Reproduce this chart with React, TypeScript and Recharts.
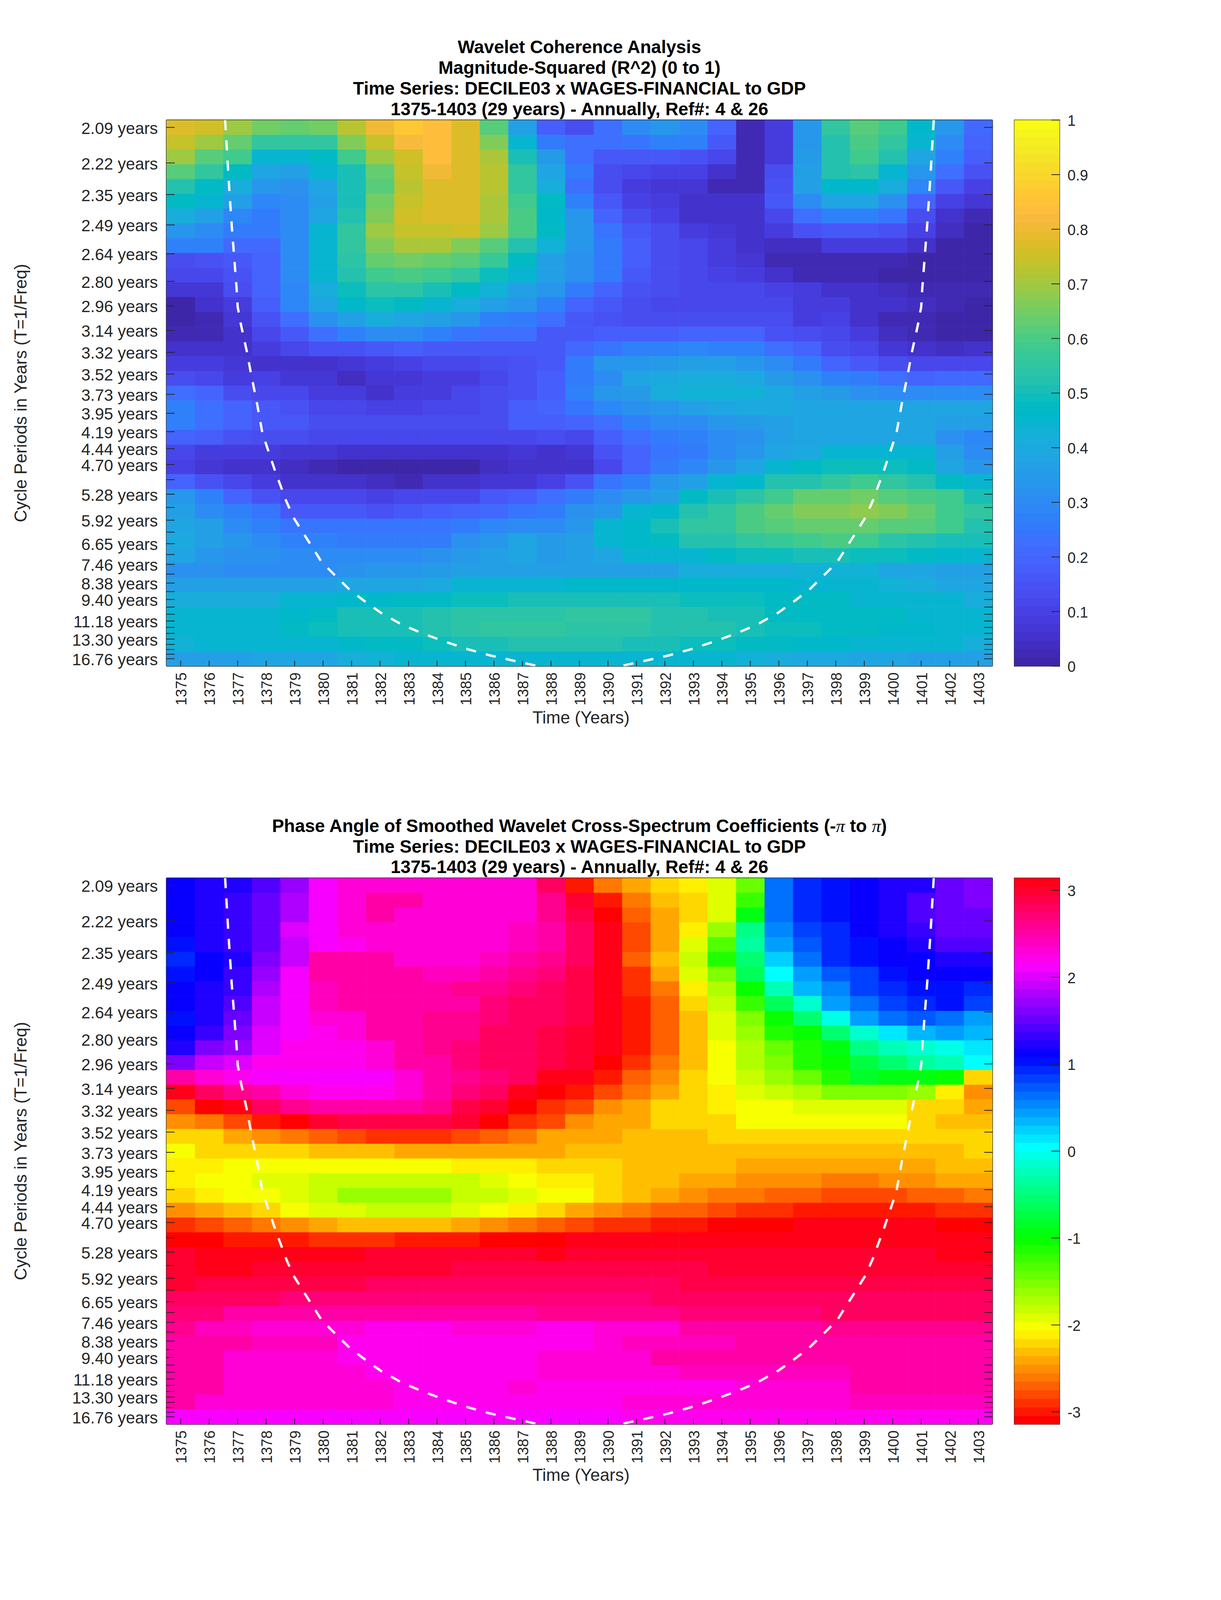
import React from "react";
import { ScatterChart, Scatter, XAxis, YAxis, ReferenceArea } from "recharts";

// ---------- categories and ticks ----------
const years = [1375,1376,1377,1378,1379,1380,1381,1382,1383,1384,1385,1386,1387,1388,1389,1390,1391,1392,1393,1394,1395,1396,1397,1398,1399,1400,1401,1402,1403];
const periods = [2.09,2.22,2.35,2.49,2.64,2.80,2.96,3.14,3.32,3.52,3.73,3.95,4.19,4.44,4.70,4.98,5.28,5.59,5.92,6.27,6.65,7.05,7.46,7.91,8.38,8.88,9.40,9.96,10.55,11.18,11.85,12.55,13.30,14.09,14.93,15.81,16.76];
const labelledPeriods = [2.09,2.22,2.35,2.49,2.64,2.80,2.96,3.14,3.32,3.52,3.73,3.95,4.19,4.44,4.70,5.28,5.92,6.65,7.46,8.38,9.40,11.18,13.30,16.76];
const coherenceTicks = [0,0.1,0.2,0.3,0.4,0.5,0.6,0.7,0.8,0.9,1];
const phaseTicks = [-3,-2,-1,0,1,2,3];

// ---------- magnitude-squared coherence, one row per period, one value per year ----------
const coherence = [
[.78,.75,.70,.65,.63,.65,.73,.80,.87,.84,.77,.61,.37,.18,.14,.22,.31,.34,.30,.19,.02,.08,.33,.55,.62,.59,.46,.34,.21],
[.74,.70,.64,.55,.55,.56,.67,.74,.82,.83,.78,.66,.45,.26,.22,.22,.24,.27,.27,.16,.02,.08,.34,.52,.60,.55,.44,.30,.19],
[.69,.62,.58,.45,.44,.47,.58,.69,.76,.83,.78,.71,.51,.35,.23,.16,.16,.16,.15,.11,.02,.09,.35,.52,.58,.52,.39,.27,.18],
[.62,.55,.48,.39,.37,.44,.51,.64,.74,.81,.78,.73,.55,.38,.26,.14,.11,.10,.10,.06,.03,.14,.36,.53,.54,.45,.33,.22,.15],
[.53,.48,.41,.33,.32,.39,.50,.62,.73,.78,.78,.72,.55,.41,.23,.14,.09,.07,.07,.03,.03,.15,.37,.46,.46,.41,.29,.17,.10],
[.48,.44,.37,.29,.31,.37,.50,.65,.74,.78,.77,.71,.59,.47,.28,.16,.10,.08,.06,.06,.06,.16,.31,.39,.39,.32,.20,.10,.07],
[.41,.36,.29,.25,.31,.39,.53,.66,.75,.78,.77,.71,.60,.46,.33,.19,.13,.10,.06,.05,.05,.11,.22,.27,.28,.24,.13,.06,.03],
[.34,.31,.26,.25,.30,.44,.55,.69,.74,.74,.75,.69,.60,.47,.33,.24,.16,.13,.09,.07,.05,.08,.15,.17,.17,.15,.10,.04,.01],
[.27,.27,.21,.21,.31,.44,.56,.67,.71,.71,.67,.62,.52,.43,.34,.26,.18,.14,.11,.08,.06,.04,.04,.09,.09,.09,.05,.01,.01],
[.14,.15,.17,.20,.31,.44,.54,.64,.65,.64,.61,.57,.48,.37,.32,.26,.18,.14,.11,.09,.07,.03,.02,.02,.02,.02,.01,.01,.01],
[.11,.11,.15,.20,.31,.44,.52,.58,.60,.59,.55,.49,.44,.37,.32,.25,.17,.14,.11,.10,.09,.06,.03,.02,.02,.01,.01,.01,.01],
[.07,.07,.13,.20,.29,.41,.49,.54,.54,.51,.47,.43,.37,.33,.26,.19,.15,.13,.11,.11,.11,.10,.08,.06,.06,.04,.03,.03,.03],
[.01,.05,.09,.18,.29,.38,.46,.49,.47,.44,.41,.37,.34,.27,.19,.17,.14,.12,.12,.12,.12,.11,.09,.08,.06,.05,.04,.02,.00],
[.01,.03,.07,.15,.23,.32,.37,.41,.39,.37,.34,.28,.26,.23,.17,.15,.14,.14,.14,.14,.13,.13,.09,.10,.06,.03,.03,.00,.00],
[.02,.02,.05,.12,.17,.23,.28,.30,.30,.28,.24,.23,.22,.16,.16,.18,.18,.18,.20,.19,.19,.15,.14,.11,.08,.04,.02,.01,.01],
[.06,.06,.06,.08,.11,.15,.15,.16,.18,.17,.17,.17,.17,.16,.21,.24,.27,.27,.29,.27,.27,.22,.20,.14,.11,.07,.06,.04,.06],
[.09,.08,.07,.06,.06,.06,.07,.09,.10,.11,.12,.13,.15,.17,.26,.33,.33,.35,.36,.36,.33,.30,.26,.20,.16,.14,.12,.12,.12],
[.13,.11,.09,.10,.07,.07,.04,.07,.07,.08,.09,.12,.15,.18,.25,.31,.39,.40,.42,.42,.40,.35,.32,.28,.25,.22,.20,.21,.21],
[.23,.19,.14,.12,.12,.08,.08,.06,.08,.08,.12,.13,.15,.18,.28,.33,.35,.41,.43,.43,.43,.40,.37,.35,.32,.31,.31,.31,.31],
[.27,.23,.19,.16,.15,.12,.11,.10,.10,.11,.12,.14,.18,.19,.24,.29,.32,.34,.36,.38,.40,.40,.38,.38,.38,.38,.38,.38,.38],
[.27,.23,.19,.17,.17,.14,.13,.13,.13,.13,.13,.14,.18,.18,.20,.23,.27,.30,.30,.33,.35,.36,.38,.39,.39,.38,.38,.37,.37],
[.20,.18,.15,.13,.13,.12,.12,.12,.12,.12,.12,.12,.12,.13,.12,.18,.23,.26,.27,.30,.32,.37,.38,.38,.38,.38,.38,.32,.29],
[.11,.09,.08,.08,.07,.07,.06,.06,.06,.06,.06,.06,.07,.06,.07,.15,.20,.24,.26,.30,.33,.39,.40,.44,.44,.44,.44,.36,.30],
[.10,.07,.06,.06,.04,.03,.01,.01,.01,.01,.01,.04,.05,.05,.06,.12,.20,.25,.29,.33,.39,.45,.47,.49,.49,.49,.47,.39,.34],
[.19,.15,.12,.08,.06,.05,.05,.04,.03,.05,.06,.07,.07,.10,.15,.24,.28,.33,.36,.44,.46,.52,.52,.55,.58,.56,.53,.47,.44],
[.33,.27,.19,.15,.12,.12,.12,.10,.12,.12,.12,.16,.18,.22,.25,.30,.33,.37,.47,.51,.54,.58,.63,.63,.65,.62,.60,.58,.51],
[.37,.30,.27,.24,.17,.16,.16,.15,.17,.18,.19,.21,.24,.26,.32,.34,.44,.46,.52,.55,.60,.63,.66,.66,.68,.66,.64,.59,.55],
[.39,.36,.31,.28,.24,.24,.24,.24,.24,.24,.26,.29,.30,.30,.34,.45,.46,.51,.55,.56,.60,.62,.64,.64,.64,.62,.62,.59,.53],
[.40,.36,.33,.30,.27,.27,.26,.26,.26,.26,.32,.33,.38,.35,.36,.45,.46,.47,.52,.53,.55,.57,.59,.60,.59,.54,.53,.51,.50],
[.38,.34,.32,.32,.31,.30,.30,.30,.31,.32,.35,.36,.38,.35,.37,.38,.44,.45,.45,.47,.49,.49,.50,.50,.49,.49,.48,.46,.44],
[.32,.32,.30,.30,.30,.31,.32,.33,.34,.35,.36,.36,.37,.36,.36,.36,.36,.37,.42,.42,.42,.42,.43,.43,.43,.38,.38,.36,.36],
[.36,.36,.36,.36,.36,.37,.38,.38,.38,.40,.44,.44,.45,.45,.46,.46,.46,.46,.46,.46,.46,.46,.45,.45,.45,.43,.42,.39,.39],
[.41,.41,.41,.41,.44,.44,.46,.46,.47,.47,.49,.49,.50,.50,.51,.51,.51,.51,.49,.49,.49,.47,.47,.47,.45,.45,.44,.44,.42],
[.44,.44,.44,.45,.46,.47,.50,.51,.51,.52,.54,.54,.54,.54,.55,.55,.55,.52,.52,.50,.50,.48,.48,.48,.47,.47,.45,.45,.44],
[.44,.44,.45,.45,.47,.49,.50,.51,.51,.53,.54,.55,.56,.56,.54,.54,.54,.53,.52,.52,.50,.49,.49,.47,.47,.46,.46,.45,.44],
[.43,.44,.44,.44,.44,.45,.46,.48,.48,.49,.50,.51,.52,.52,.52,.52,.50,.50,.49,.49,.47,.47,.46,.46,.45,.44,.44,.44,.41],
[.36,.37,.37,.38,.38,.39,.41,.43,.44,.44,.45,.45,.45,.45,.45,.45,.45,.45,.44,.44,.43,.42,.40,.40,.39,.38,.37,.36,.36],
];

// ---------- phase angle, in degrees measured from -pi, one row per period ----------
const phaseFromMinusPi = [
[240,245,250,260,275,298,308,308,308,310,310,310,312,340,5,30,40,51,57,68,94,214,228,238,240,246,250,265,270],
[240,245,252,262,282,300,308,322,322,312,312,312,312,325,348,8,30,45,50,67,108,214,228,238,240,248,258,265,270],
[240,245,252,262,282,300,308,320,312,310,310,310,312,326,342,0,24,40,50,68,125,214,228,238,240,248,258,265,266],
[240,245,252,265,290,300,308,312,312,312,312,312,316,318,336,353,18,40,57,85,150,210,225,232,242,248,254,265,265],
[235,245,252,265,285,298,305,312,312,312,312,312,316,318,340,352,18,40,65,100,155,205,220,230,238,243,250,258,258],
[232,240,250,272,288,318,318,320,312,312,312,315,320,328,338,352,22,45,72,110,148,192,212,228,235,240,243,248,248],
[236,243,252,275,298,318,320,320,320,316,316,322,325,332,342,352,12,38,68,90,140,180,205,222,225,238,240,240,240],
[240,246,255,280,298,316,322,322,322,322,325,328,330,336,345,353,10,30,55,80,120,165,195,210,225,232,238,238,228],
[240,250,260,285,300,316,318,320,322,322,322,332,335,340,345,355,5,25,50,75,105,140,170,200,215,225,233,235,225],
[235,248,265,285,300,308,312,320,322,325,325,332,338,340,345,355,5,25,45,70,90,118,145,175,202,212,222,215,205],
[240,255,272,292,300,305,310,318,322,325,328,335,340,345,348,355,5,25,45,70,85,110,120,145,170,185,195,205,195],
[245,270,278,290,302,305,306,312,318,325,332,335,340,345,350,358,5,25,45,62,80,95,112,125,150,165,170,175,185],
[272,288,292,302,302,305,305,312,318,322,332,335,340,345,350,0,12,30,45,62,78,90,110,120,135,148,158,165,180],
[318,308,302,300,300,300,300,300,308,318,325,332,338,352,358,8,22,35,50,62,75,83,95,110,130,122,122,120,50],
[352,340,325,318,310,302,302,302,312,322,330,340,358,2,6,18,28,39,52,57,70,72,78,90,90,90,82,57,33],
[18,0,352,335,325,322,322,322,322,328,342,350,0,10,18,32,38,50,52,57,62,62,68,68,68,68,52,48,40],
[35,30,18,6,0,348,342,342,342,345,350,0,12,17,32,38,42,50,52,52,60,60,60,60,60,60,52,46,46],
[48,48,42,36,30,24,18,12,12,12,18,22,28,38,38,42,46,46,46,52,52,52,52,52,52,52,52,52,52],
[60,50,50,50,50,45,45,45,40,40,40,40,40,42,45,45,45,45,45,45,45,45,45,45,45,45,45,45,50],
[57,57,62,62,64,64,64,64,64,64,57,57,57,50,50,52,45,45,45,45,40,40,40,40,40,40,40,46,46],
[57,62,62,68,68,74,74,74,74,74,74,68,62,57,57,50,45,45,40,40,36,36,36,28,28,36,36,40,40],
[50,57,62,62,68,74,82,84,84,84,74,74,68,62,62,50,45,40,36,28,28,24,24,18,18,18,22,22,28],
[32,40,46,52,62,68,68,74,74,74,68,62,57,50,40,34,28,22,22,18,12,12,6,6,6,6,6,12,12],
[12,18,24,28,34,40,45,45,45,45,40,34,28,24,18,12,12,6,6,0,0,0,355,355,355,355,355,0,0],
[0,0,6,6,6,12,12,12,6,6,6,0,0,0,358,358,358,358,358,352,352,352,352,352,352,352,352,352,352],
[350,356,356,356,356,356,356,350,350,350,350,350,350,355,350,350,350,350,350,350,350,350,350,350,350,350,350,354,354],
[350,354,354,348,348,348,348,348,348,348,344,344,344,344,344,344,344,344,344,348,348,348,348,348,348,348,348,348,348],
[350,342,342,342,342,342,342,338,338,338,338,338,338,338,338,338,338,338,342,342,342,342,342,342,342,342,342,342,342],
[340,340,340,340,332,332,332,332,332,332,332,332,332,332,332,332,332,336,336,336,336,336,336,336,336,340,340,340,340],
[334,334,322,322,322,322,322,322,322,322,322,322,322,326,326,326,326,326,330,330,330,330,330,335,335,335,335,335,335],
[326,314,314,312,312,312,312,304,304,304,310,310,310,304,304,312,312,312,318,318,318,318,318,326,326,326,326,326,326],
[322,322,322,314,314,314,302,302,302,302,302,302,306,306,306,310,316,316,316,316,322,322,322,322,322,322,322,322,322],
[322,322,312,312,312,312,304,302,302,302,302,302,302,308,308,310,310,318,318,318,318,322,322,322,322,322,322,322,322],
[322,322,312,312,312,312,312,304,304,304,304,304,304,308,308,308,308,308,314,314,314,314,314,314,320,320,320,320,320],
[322,322,312,312,312,312,312,312,304,304,304,304,310,306,306,306,306,306,306,306,312,312,312,312,318,318,318,318,318],
[320,312,312,312,312,312,312,312,304,304,304,304,304,304,304,304,310,310,310,310,310,310,310,310,316,316,316,316,316],
[300,300,300,300,300,300,300,300,300,300,300,300,300,298,298,298,302,302,302,302,302,302,302,302,302,302,302,302,302],
];

// ---------- cone of influence (year, row of the grid) ----------
const coiLeftYears = [1376.56,1376.68,1376.79,1376.96,1377.00,1377.12,1377.33,1377.46,1377.68,1377.87,1378.30,1378.70,1378.96,1379.29,1379.62,1379.95,1380.47,1380.93,1381.52,1382.04,1382.77,1383.48,1384.28,1385.06,1385.86,1386.71,1387.56];
const coiRightYears = [1401.44,1401.32,1401.21,1401.04,1401.00,1400.88,1400.67,1400.54,1400.32,1400.13,1399.70,1399.30,1399.04,1398.71,1398.38,1398.05,1397.53,1397.07,1396.48,1395.96,1395.23,1394.52,1393.72,1392.94,1392.14,1391.29,1390.44];
const coiRows = [-0.5,3.4,6.6,10.83,12.15,13.4,15.25,16.6,18.7,20.73,23.19,25.29,26.43,27.44,28.44,29.45,30.45,31.32,32.19,32.9,33.69,34.27,34.84,35.34,35.77,36.14,36.5];

// ---------- colour maps ----------
const parula = [
[.2422,.1504,.6603],[.2504,.1650,.7076],[.2578,.1818,.7511],[.2647,.1978,.7952],[.2706,.2147,.8364],[.2751,.2342,.8710],[.2783,.2559,.8991],[.2803,.2782,.9221],
[.2813,.3006,.9414],[.2810,.3228,.9579],[.2795,.3447,.9717],[.2760,.3667,.9829],[.2699,.3892,.9906],[.2602,.4123,.9952],[.2440,.4358,.9988],[.2206,.4603,.9973],
[.1963,.4847,.9892],[.1834,.5074,.9798],[.1786,.5289,.9682],[.1764,.5499,.9520],[.1687,.5703,.9359],[.1540,.5902,.9218],[.1460,.6091,.9079],[.1380,.6276,.8973],
[.1248,.6459,.8883],[.1113,.6635,.8763],[.0952,.6798,.8598],[.0689,.6948,.8394],[.0297,.7082,.8163],[.0036,.7203,.7917],[.0067,.7312,.7660],[.0433,.7411,.7394],
[.0964,.7500,.7120],[.1408,.7584,.6842],[.1717,.7670,.6554],[.1938,.7758,.6251],[.2161,.7843,.5923],[.2470,.7918,.5567],[.2906,.7973,.5188],[.3406,.8008,.4789],
[.3909,.8029,.4354],[.4456,.8024,.3909],[.5044,.7993,.3480],[.5616,.7942,.3045],[.6174,.7876,.2612],[.6720,.7793,.2227],[.7242,.7698,.1910],[.7738,.7598,.1646],
[.8203,.7498,.1535],[.8634,.7406,.1596],[.9035,.7330,.1774],[.9393,.7288,.2100],[.9728,.7298,.2394],[.9956,.7434,.2371],[.9970,.7659,.2199],[.9952,.7861,.1967],
[.9892,.8136,.1885],[.9786,.8386,.1778],[.9676,.8639,.1646],[.9610,.8890,.1537],[.9597,.9135,.1423],[.9628,.9373,.1265],[.9691,.9606,.1064],[.9769,.9839,.0805],
];
const LEVELS = 64;
const PI = Math.PI;
const clampLevel = (i: number) => Math.max(0, Math.min(LEVELS - 1, i));
const parulaColor = (v: number) => {
  const c = parula[clampLevel(Math.floor(v * LEVELS))];
  return `rgb(${Math.round(c[0] * 255)},${Math.round(c[1] * 255)},${Math.round(c[2] * 255)})`;
};
const hsvColor = (v: number) => {
  const i = clampLevel(Math.floor(((v + PI) / (2 * PI)) * LEVELS));
  return `hsl(${(i / LEVELS) * 360},100%,50%)`;
};

// ---------- derived tables ----------
const cellsOf = (rows: number[][], toValue: (x: number) => number) =>
  rows.flatMap((row, r) => row.map((v, c) => ({ year: years[c], row: r, value: toValue(v) })));
const coherenceCells = cellsOf(coherence, (v) => v);
const phaseCells = cellsOf(phaseFromMinusPi, (d) => ((d + 2.8) * PI) / 180 - PI);
const coiLeft = coiLeftYears.map((year, i) => ({ year, row: coiRows[i] }));
const coiRight = coiRightYears.map((year, i) => ({ year, row: coiRows[i] }));
const freqTicks = periods.map((p) => 1 / p);
const freqStep = (1 / periods[0] - 1 / periods[periods.length - 1]) / (periods.length - 1);
const freqDomain = [1 / periods[periods.length - 1] - freqStep / 2, 1 / periods[0] + freqStep / 2];
const coherenceLevels = Array.from({ length: LEVELS }, (_, i) => ({ x: 0.5, y: (i + 0.5) / LEVELS }));
const phaseLevels = Array.from({ length: LEVELS }, (_, i) => ({ x: 0.5, y: -PI + ((i + 0.5) / LEVELS) * 2 * PI }));

// ---------- layout: vertical positions of the 6252 tall reference fitted to the 4096 tall window ----------
const W = 3125;
const H = 4096;
const K = H / 6252;
const CH = 1965;
const LEFT = 426, RIGHT = 2540, PW = RIGHT - LEFT, PH = 2134 * K;
const CB_LEFT = 2596, CB_RIGHT = 2712;
const CELL_W = PW / years.length, CELL_H = PH / periods.length;
const CB_H = PH / LEVELS;
const FONT = "'Liberation Sans', Arial, sans-serif";
const INK = "#262626";
const AXIS = { stroke: INK, strokeWidth: 2.5 };
const TICK_X = 21, TICK_Y = 14;
const COI_LINE = { stroke: "#fff", strokeWidth: 6, strokeDasharray: "26 26" };

const LeftTick = ({ x, y, payload }: any) => {
  const p = periods.find((q) => Math.abs(1 / q - payload.value) < 1e-9);
  const shown = labelledPeriods.includes(p as number);
  return (
    <g>
      <line x1={x} x2={x + TICK_X} y1={y} y2={y} stroke={INK} strokeWidth={2} />
      {shown && (
        <text x={x - 22} y={y + 2} textAnchor="end" dominantBaseline="central" fontFamily={FONT} fontSize={42} fill={INK}>
          {(p as number).toFixed(2)} years
        </text>
      )}
    </g>
  );
};
const RightTick = ({ x, y }: any) => <line x1={x - TICK_X} x2={x} y1={y} y2={y} stroke={INK} strokeWidth={2} />;
const TopTick = ({ x, y }: any) => <line x1={x} x2={x} y1={y} y2={y + TICK_Y} stroke={INK} strokeWidth={2} />;
const BottomTick = ({ x, y, payload }: any) => (
  <g>
    <line x1={x} x2={x} y1={y} y2={y - TICK_Y} stroke={INK} strokeWidth={2} />
    <text x={x + 2} y={y + 16} transform={`rotate(-90 ${x + 2} ${y + 16})`} textAnchor="end" dominantBaseline="central" fontFamily={FONT} fontSize={38} fill={INK}>
      {payload.value}
    </text>
  </g>
);
const BarTick = ({ x, y, payload }: any) => (
  <g>
    <line x1={x - TICK_X} x2={x} y1={y} y2={y} stroke={INK} strokeWidth={2} />
    <text x={x + 20} y={y + 2} dominantBaseline="central" fontFamily={FONT} fontSize={38} fill={INK}>
      {payload.value}
    </text>
  </g>
);

function Panel({ top, cells, colorOf }: { top: number; cells: any[]; colorOf: (v: number) => string }) {
  const Cell = (p: any) => (
    <rect x={p.cx - CELL_W / 2} y={p.cy - CELL_H / 2} width={CELL_W + 0.6} height={CELL_H + 0.6} fill={colorOf(p.payload.value)} />
  );
  return (
    <div style={{ position: "absolute", left: 0, top: 0 }}>
      <ScatterChart width={W} height={CH} margin={{ top: top - 1, left: LEFT - 1, right: W - RIGHT - 1, bottom: CH - top - PH - 1 }}>
        <Scatter xAxisId="b" yAxisId="rows" data={cells} shape={Cell} isAnimationActive={false} />
        <Scatter xAxisId="b" yAxisId="rows" data={coiLeft} line={COI_LINE} shape={() => <g />} isAnimationActive={false} />
        <Scatter xAxisId="b" yAxisId="rows" data={coiRight} line={COI_LINE} shape={() => <g />} isAnimationActive={false} />
        <XAxis xAxisId="b" type="number" dataKey="year" domain={[1374.5, 1403.5]} allowDataOverflow ticks={years} interval={0} height={1} tickSize={0} tickMargin={0} tickLine={false} axisLine={AXIS} tick={BottomTick} orientation="bottom" />
        <XAxis xAxisId="t" type="number" domain={[1374.5, 1403.5]} allowDataOverflow ticks={years} interval={0} height={1} tickSize={0} tickMargin={0} tickLine={false} axisLine={AXIS} tick={TopTick} orientation="top" />
        <YAxis yAxisId="rows" type="number" dataKey="row" domain={[-0.5, 36.5]} allowDataOverflow reversed hide width={0} />
        <YAxis yAxisId="l" type="number" domain={freqDomain} allowDataOverflow ticks={freqTicks} interval={0} width={1} tickSize={0} tickMargin={0} tickLine={false} axisLine={AXIS} tick={LeftTick} orientation="left" />
        <YAxis yAxisId="r" type="number" domain={freqDomain} allowDataOverflow ticks={freqTicks} interval={0} width={1} tickSize={0} tickMargin={0} tickLine={false} axisLine={AXIS} tick={RightTick} orientation="right" />
      </ScatterChart>
    </div>
  );
}

function ColorBar({ top, levels, domain, ticks, colorOf }: { top: number; levels: any[]; domain: number[]; ticks: number[]; colorOf: (v: number) => string }) {
  const Band = (p: any) => (
    <rect x={p.cx - (CB_RIGHT - CB_LEFT) / 2} y={p.cy - CB_H / 2} width={CB_RIGHT - CB_LEFT} height={CB_H + 0.6} fill={colorOf(p.payload.y)} />
  );
  return (
    <div style={{ position: "absolute", left: 0, top: 0 }}>
      <ScatterChart width={W} height={CH} margin={{ top, left: CB_LEFT, right: W - CB_RIGHT - 1, bottom: CH - top - PH }}>
        <Scatter data={levels} shape={Band} isAnimationActive={false} />
        <XAxis type="number" dataKey="x" domain={[0, 1]} hide height={0} />
        <YAxis type="number" dataKey="y" domain={domain} allowDataOverflow ticks={ticks} interval={0} width={1} tickSize={0} tickMargin={0} tickLine={false} axisLine={false} tick={BarTick} orientation="right" />
        <ReferenceArea x1={0} x2={1} y1={domain[0]} y2={domain[1]} fill="none" stroke={INK} strokeWidth={2} ifOverflow="visible" />
      </ScatterChart>
    </div>
  );
}

const T = ({ y, children }: any) => (
  <text x={(LEFT + RIGHT) / 2} y={y * K} textAnchor="middle" fontFamily={FONT} fontSize={46} fontWeight="bold" fill="#000">
    {children}
  </text>
);
const AxisNames = ({ plotTop, xBase }: { plotTop: number; xBase: number }) => (
  <g fontFamily={FONT} fontSize={44} fill={INK}>
    <text x={(LEFT + RIGHT) / 2 + 4} y={xBase * K} textAnchor="middle">Time (Years)</text>
    <text x={68} y={plotTop + PH / 2} textAnchor="middle" transform={`rotate(-90 68 ${plotTop + PH / 2})`}>Cycle Periods in Years (T=1/Freq)</text>
  </g>
);

const TOP_A = 469 * K;
const TOP_B = 3431 * K;

export default function App() {
  return (
    <div style={{ position: "relative", width: W, height: H, background: "#fff", overflow: "hidden" }}>
      <style>{"html,body{margin:0;padding:0;background:#fff}"}</style>
      <div style={{ position: "absolute", left: 0, top: 0, width: W, height: CH }}>
        <Panel top={TOP_A} cells={coherenceCells} colorOf={parulaColor} />
        <ColorBar top={TOP_A} levels={coherenceLevels} domain={[0, 1]} ticks={coherenceTicks} colorOf={parulaColor} />
      </div>
      <div style={{ position: "absolute", left: 0, top: CH, width: W, height: CH }}>
        <Panel top={TOP_B - CH} cells={phaseCells} colorOf={hsvColor} />
        <ColorBar top={TOP_B - CH} levels={phaseLevels} domain={[-PI, PI]} ticks={phaseTicks} colorOf={hsvColor} />
      </div>
      <svg width={W} height={H} style={{ position: "absolute", left: 0, top: 0, pointerEvents: "none" }}>
        <T y={207}>Wavelet Coherence Analysis</T>
        <T y={288}>Magnitude-Squared (R^2) (0 to 1)</T>
        <T y={369}>Time Series: DECILE03 x WAGES-FINANCIAL to GDP</T>
        <T y={450}>1375-1403 (29 years) - Annually, Ref#: 4 &amp; 26</T>
        <AxisNames plotTop={TOP_A} xBase={2827} />
        <T y={3251}>
          Phase Angle of Smoothed Wavelet Cross-Spectrum Coefficients (-
          <tspan fontFamily="'Liberation Serif', serif" fontStyle="italic" fontWeight="normal">π</tspan> to{" "}
          <tspan fontFamily="'Liberation Serif', serif" fontStyle="italic" fontWeight="normal">π</tspan>)
        </T>
        <T y={3332}>Time Series: DECILE03 x WAGES-FINANCIAL to GDP</T>
        <T y={3412}>1375-1403 (29 years) - Annually, Ref#: 4 &amp; 26</T>
        <AxisNames plotTop={TOP_B} xBase={5787} />
      </svg>
    </div>
  );
}
